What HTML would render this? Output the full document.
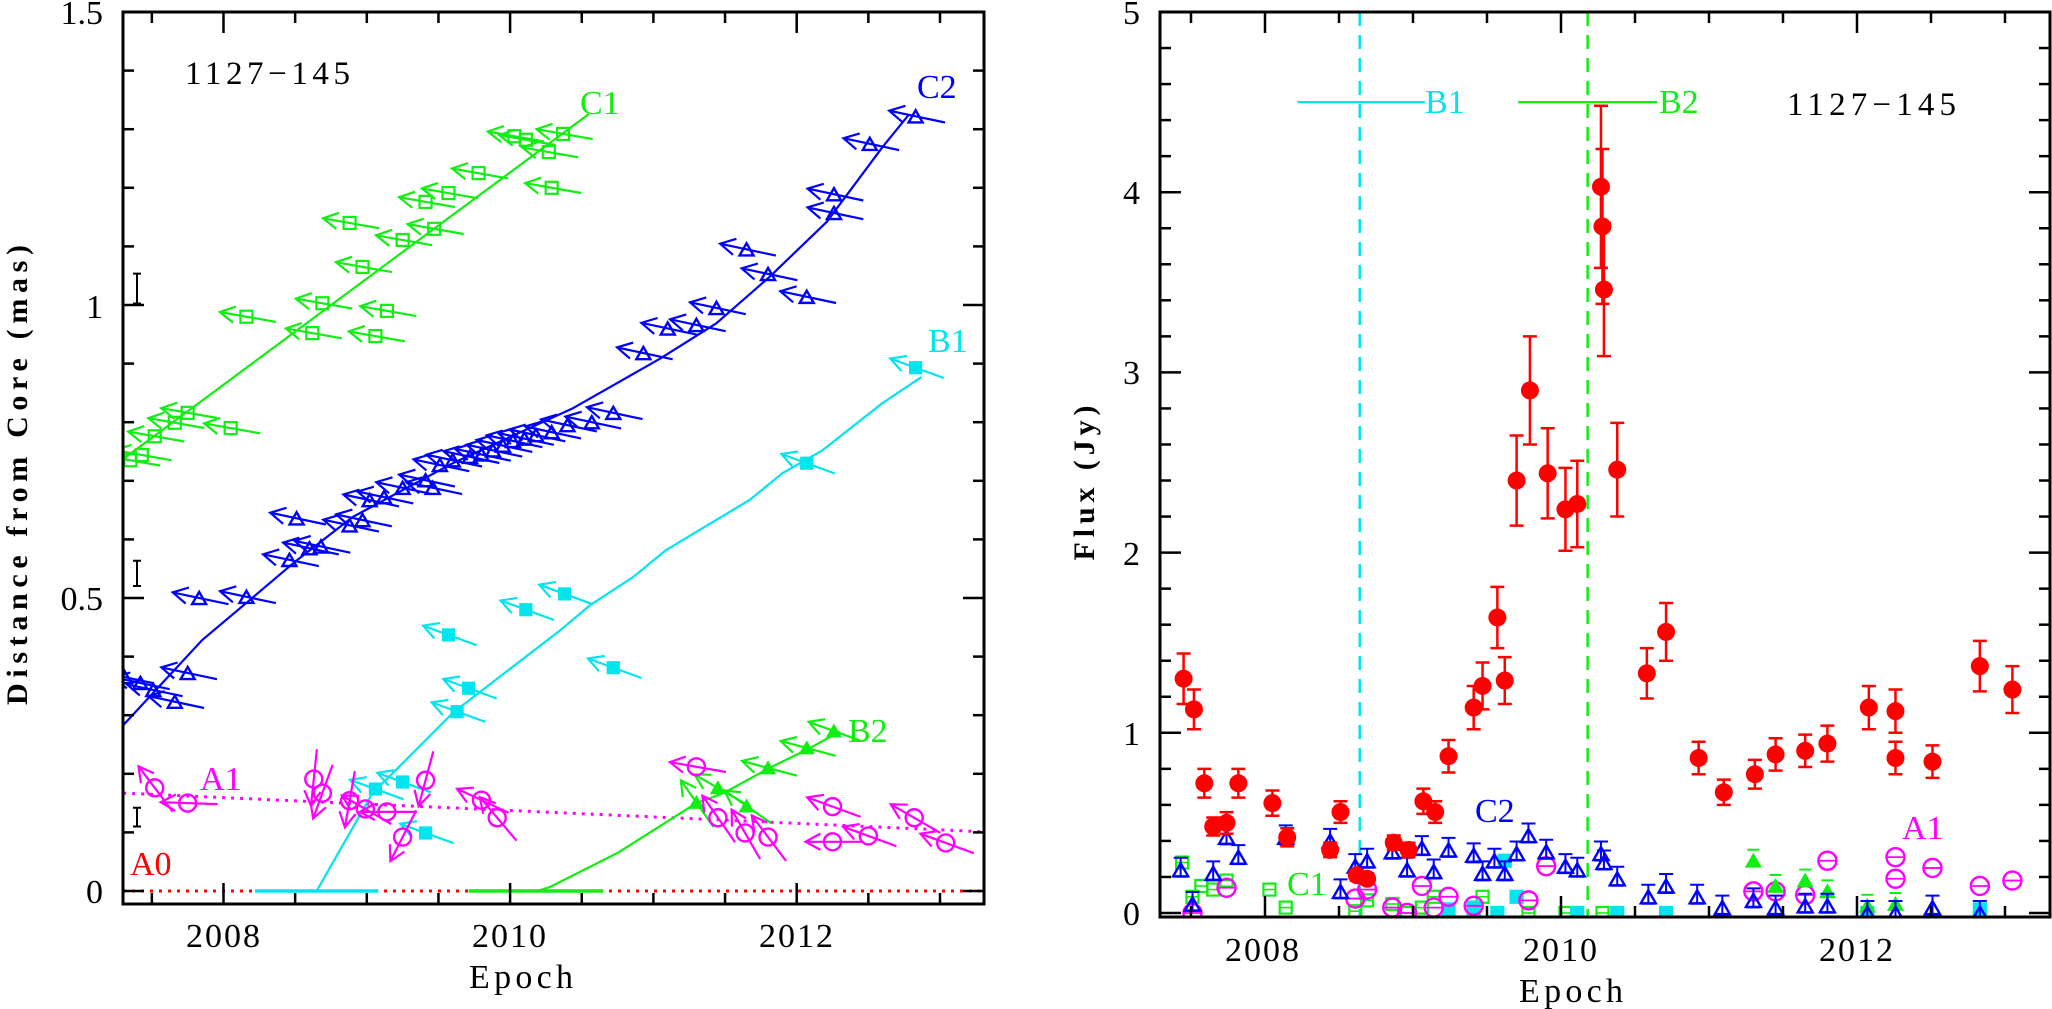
<!DOCTYPE html>
<html><head><meta charset="utf-8"><title>1127-145</title>
<style>
html,body{margin:0;padding:0;background:#fff;}
svg{display:block;}
text{font-family:"Liberation Serif",serif;}
</style></head>
<body>
<svg id="chart" width="2052" height="1009" viewBox="0 0 2052 1009" xmlns="http://www.w3.org/2000/svg">
<defs>
<clipPath id="clipL"><rect x="123" y="12" width="861" height="892"/></clipPath>
<clipPath id="clipR"><rect x="1160" y="12" width="890" height="905"/></clipPath>
</defs>
<rect x="0" y="0" width="2052" height="1009" fill="#fff"/>
<g id="gL" clip-path="url(#clipL)"></g>
<g id="gR" clip-path="url(#clipR)"></g>
<g id="axes"></g>

<!-- left panel text -->
<text x="103" y="24" font-size="34" text-anchor="end">1.5</text>
<text x="103" y="318" font-size="34" text-anchor="end">1</text>
<text x="103" y="610" font-size="34" text-anchor="end">0.5</text>
<text x="103" y="903" font-size="34" text-anchor="end">0</text>
<text x="224" y="947" font-size="34" text-anchor="middle" letter-spacing="2">2008</text>
<text x="510" y="947" font-size="34" text-anchor="middle" letter-spacing="2">2010</text>
<text x="797" y="947" font-size="34" text-anchor="middle" letter-spacing="2">2012</text>
<text x="521" y="988" font-size="34" text-anchor="middle" textLength="104">Epoch</text>
<text transform="translate(27,475) rotate(-90)" font-size="30" font-weight="bold" text-anchor="middle" textLength="460">Distance from Core (mas)</text>
<text x="185" y="84" font-size="33" textLength="165">1127−145</text>
<text x="580" y="114" font-size="34" fill="#11ee11">C1</text>
<text x="917" y="98" font-size="34" fill="#0000ff">C2</text>
<text x="928" y="352" font-size="34" fill="#00e5ee">B1</text>
<text x="848" y="742" font-size="34" fill="#11ee11">B2</text>
<text x="200" y="790" font-size="34" fill="#ff00ff">A1</text>
<text x="130" y="875" font-size="34" fill="#ff0000">A0</text>

<!-- right panel text -->
<text x="1140" y="24" font-size="34" text-anchor="end">5</text>
<text x="1140" y="204" font-size="34" text-anchor="end">4</text>
<text x="1140" y="384" font-size="34" text-anchor="end">3</text>
<text x="1140" y="565" font-size="34" text-anchor="end">2</text>
<text x="1140" y="745" font-size="34" text-anchor="end">1</text>
<text x="1140" y="925" font-size="34" text-anchor="end">0</text>
<text x="1263" y="961" font-size="34" text-anchor="middle" letter-spacing="2">2008</text>
<text x="1561" y="961" font-size="34" text-anchor="middle" letter-spacing="2">2010</text>
<text x="1857" y="961" font-size="34" text-anchor="middle" letter-spacing="2">2012</text>
<text x="1571" y="1002" font-size="34" text-anchor="middle" textLength="104">Epoch</text>
<text transform="translate(1094,483) rotate(-90)" font-size="30" font-weight="bold" text-anchor="middle" textLength="155">Flux (Jy)</text>
<text x="1787" y="115" font-size="33" textLength="169">1127−145</text>
<text x="1425" y="113" font-size="34" fill="#00e5ee">B1</text>
<text x="1659" y="113" font-size="34" fill="#11ee11">B2</text>
<text x="1475" y="822" font-size="34" fill="#0000ff">C2</text>
<text x="1287" y="895" font-size="34" fill="#11ee11">C1</text>
<text x="1902" y="839" font-size="34" fill="#ff00ff">A1</text>
</svg>
<script>
// ---------- Left panel data (distance from core, mas) ----------
const c1T=[2007.35,2007.43,2007.52,2007.66,2007.75,2008.05,2008.16,2008.62,2008.69,2008.88,2008.97,2009.06,2009.14,2009.25,2009.41,2009.47,2009.57,2009.78,2010.03,2010.11,2010.27,2010.29,2010.37];
const c1D=[0.735,0.744,0.776,0.799,0.816,0.790,0.980,0.952,1.003,1.140,1.065,0.947,0.990,1.111,1.176,1.130,1.191,1.225,1.288,1.282,1.261,1.200,1.292];
const c2T=[2007.31,2007.42,2007.51,2007.66,2007.75,2007.83,2008.16,2008.46,2008.60,2008.68,2008.51,2008.88,2008.97,2009.02,2009.12,2009.25,2009.41,2009.46,2009.51,2009.60,2009.72,2009.80,2009.88,2009.95,2010.02,2010.10,2010.18,2010.29,2010.40,2010.57,2010.72,2010.93,2011.10,2011.30,2011.44,2011.65,2011.80,2012.07,2012.26,2012.26,2012.51,2012.83];
const c2D=[0.365,0.355,0.343,0.323,0.372,0.500,0.502,0.565,0.585,0.588,0.636,0.624,0.633,0.667,0.672,0.688,0.701,0.688,0.727,0.735,0.741,0.745,0.752,0.760,0.768,0.772,0.778,0.783,0.795,0.800,0.816,0.918,0.960,0.966,0.995,1.095,1.053,1.014,1.189,1.157,1.275,1.322];
const b1T=[2009.06,2009.25,2009.41,2009.57,2009.63,2009.71,2010.11,2010.38,2010.72,2012.07,2012.83];
const b1D=[0.174,0.186,0.099,0.437,0.306,0.346,0.480,0.507,0.381,0.730,0.893];
const b2T=[2011.30,2011.45,2011.65,2011.80,2012.07,2012.26];
const b2D=[0.151,0.176,0.145,0.210,0.244,0.273];
const b2A=[125,150,145,165,165,160];
const a1T=[2007.52,2007.75,2008.63,2008.69,2008.88,2008.99,2009.14,2009.41,2009.25,2009.80,2009.91,2011.30,2011.45,2011.64,2011.80,2012.25,2012.25,2012.50,2012.82,2013.04];
const a1D=[0.176,0.150,0.191,0.167,0.154,0.140,0.135,0.189,0.092,0.155,0.125,0.212,0.125,0.099,0.092,0.144,0.084,0.094,0.125,0.082];
const a1A=[127,178,264,250,260,150,180,255,243,155,130,170,125,120,127,160,180,160,150,160];
// fits
const c1FitT=[2007.30,2010.55];
const c1FitD=[0.737,1.326];
const c2FitT=[2007.30,2007.85,2008.21,2008.49,2008.90,2009.60,2010.44,2011.05,2011.44,2011.81,2012.21,2012.60,2012.78];
const c2FitD=[0.283,0.428,0.502,0.560,0.638,0.730,0.824,0.909,0.969,1.048,1.142,1.270,1.324];
const b1FitT=[2008.65,2009.04,2009.25,2009.60,2010.35,2010.56,2010.86,2011.09,2011.67,2011.90,2012.18,2012.60,2012.87];
const b1FitD=[0,0.167,0.218,0.304,0.445,0.488,0.536,0.582,0.667,0.713,0.752,0.833,0.877];
const b2FitT=[2010.19,2010.28,2010.75,2011.30,2011.49,2011.81,2012.07,2012.30];
const b2FitD=[0,0.007,0.065,0.150,0.167,0.210,0.241,0.272];
const a1FitT=[2007.30,2013.31];
const a1FitD=[0.167,0.101];
const b1Start=[2008.22,2009.08];
const b2Start=[2009.71,2010.65];
const scaleBarD=[1.028,0.542,0.126];
const scaleBarH=[0.051,0.043,0.032];
// ---------- Right panel data (flux, Jy) ----------
const redT=[2007.45,2007.52,2007.59,2007.65,2007.74,2007.82,2008.05,2008.15,2008.44,2008.51,2008.62,2008.69,2008.87,2008.97,2009.07,2009.15,2009.24,2009.41,2009.47,2009.57,2009.62,2009.70,2009.79,2009.91,2010.03,2010.11,2010.27,2010.28,2010.29,2010.38,2010.58,2010.71,2010.93,2011.10,2011.31,2011.45,2011.65,2011.80,2012.08,2012.26,2012.26,2012.51,2012.83,2013.05];
const redF=[1.30,1.13,0.72,0.48,0.50,0.72,0.61,0.42,0.35,0.56,0.21,0.19,0.39,0.35,0.62,0.56,0.87,1.14,1.26,1.64,1.29,2.40,2.90,2.44,2.24,2.27,4.03,3.81,3.46,2.46,1.33,1.56,0.86,0.67,0.77,0.88,0.90,0.94,1.14,1.12,0.86,0.84,1.37,1.24];
const redE=[0.14,0.11,0.08,0.05,0.06,0.08,0.07,0.05,0.04,0.06,0.03,0.03,0.04,0.04,0.07,0.06,0.09,0.12,0.13,0.17,0.13,0.25,0.30,0.25,0.23,0.24,0.45,0.43,0.37,0.26,0.14,0.16,0.09,0.07,0.08,0.09,0.09,0.10,0.12,0.12,0.09,0.09,0.14,0.13];
const cfT=[2007.43,2007.51,2007.65,2007.74,2007.82,2008.14,2008.44,2008.51,2008.61,2008.69,2008.86,2008.96,2009.06,2009.14,2009.24,2009.41,2009.47,2009.55,2009.62,2009.70,2009.78,2009.90,2010.03,2010.11,2010.27,2010.29,2010.38,2010.59,2010.71,2010.92,2011.09,2011.30,2011.45,2011.65,2011.80,2012.07,2012.26,2012.51,2012.83];
const cfF=[0.24,0.05,0.22,0.42,0.31,0.42,0.40,0.12,0.26,0.29,0.34,0.24,0.36,0.23,0.35,0.32,0.22,0.29,0.22,0.33,0.43,0.34,0.26,0.24,0.33,0.28,0.19,0.09,0.15,0.09,0.03,0.07,0.03,0.04,0.04,0.00,0.00,0.03,0.00];
const gfT=[2007.44,2007.51,2007.57,2007.65,2007.74,2008.03,2008.14,2008.61,2008.69,2008.86,2008.96,2009.06,2009.14,2009.41,2009.47,2009.78,2010.03,2010.28];
const gfF=[0.28,0.09,0.15,0.13,0.18,0.13,0.03,0.01,0.07,0.05,0.00,0.03,0.09,0.01,0.09,0.00,0.00,0.00];
const afT=[2007.51,2007.74,2008.61,2008.69,2008.86,2008.96,2009.06,2009.14,2009.24,2009.41,2009.78,2009.90,2011.30,2011.45,2011.65,2011.80,2012.26,2012.26,2012.51,2012.83,2013.05];
const afF=[0.00,0.14,0.08,0.13,0.03,0.00,0.15,0.03,0.09,0.04,0.07,0.26,0.12,0.12,0.10,0.29,0.31,0.19,0.25,0.15,0.18];
const bfT=[2009.24,2009.41,2009.57,2009.62,2009.70,2010.11,2010.38,2010.71,2012.07,2012.83];
const bfF=[0.02,0.03,0.00,0.29,0.09,0.00,0.00,0.00,0.00,0.02];
const b2fT=[2011.30,2011.45,2011.65,2011.80,2012.07,2012.26];
const b2fF=[0.29,0.15,0.18,0.12,0.04,0.05];
const ejectT=[2008.64,2010.18];
const ejectRangeLo=[2008.22,2009.71];
const ejectRangeHi=[2009.08,2010.65];
const ejectBarF=4.5;

// ---------- scales ----------
const xL=t=>223.5+(t-2008)*143.3;
const yL=d=>891-d*586;
const xR=t=>1561+(t-2010)*148;
const yR=f=>913-f*180.2;
const NS="http://www.w3.org/2000/svg";
const GREEN="#11ee11",BLUE="#0000ff",CYAN="#00e5ee",MAG="#ff00ff",RED="#ff0000";
const gL=document.getElementById('gL'),gR=document.getElementById('gR'),gA=document.getElementById('axes');

function mk(parent,tag,attrs,name){
  const el=document.createElementNS(NS,tag);
  for(const k in attrs) el.setAttribute(k,attrs[k]);
  
  
  parent.appendChild(el);
  return el;
}
function line(p,x1,y1,x2,y2,c,w,name,extra){
  const a={x1:x1,y1:y1,x2:x2,y2:y2,stroke:c,'stroke-width':w};
  if(extra) for(const k in extra) a[k]=extra[k];
  return mk(p,'line',a,name);
}
function poly(p,xs,ys,c,w,name,extra){
  const pts=xs.map((x,i)=>x.toFixed(1)+','+ys[i].toFixed(1)).join(' ');
  const a={points:pts,fill:'none',stroke:c,'stroke-width':w,'stroke-linejoin':'round'};
  if(extra) for(const k in extra) a[k]=extra[k];
  return mk(p,'polyline',a,name);
}
function arrow(p,cx,cy,ang,c,name){
  const r=ang*Math.PI/180, dx=Math.cos(r), dy=-Math.sin(r);
  const hx=cx+27*dx, hy=cy+27*dy, tx=cx-30*dx, ty=cy-30*dy;
  const a1=r+Math.PI-0.5, a2=r+Math.PI+0.5;
  const d='M'+tx.toFixed(1)+' '+ty.toFixed(1)+' L'+hx.toFixed(1)+' '+hy.toFixed(1)+
    ' M'+(hx+17*Math.cos(a1)).toFixed(1)+' '+(hy-17*Math.sin(a1)).toFixed(1)+' L'+hx.toFixed(1)+' '+hy.toFixed(1)+
    ' L'+(hx+17*Math.cos(a2)).toFixed(1)+' '+(hy-17*Math.sin(a2)).toFixed(1);
  return mk(p,'path',{d:d,fill:'none',stroke:c,'stroke-width':2.2},name);
}
function square(p,x,y,s,c,filled,name){
  return mk(p,'rect',{x:x-s/2,y:y-s/2,width:s,height:s,fill:filled?c:'none',stroke:c,'stroke-width':2.2},name);
}
function triangle(p,x,y,s,c,filled,name){
  const h=s*0.87;
  const pts=(x-s/2)+','+(y+h/2)+' '+(x+s/2)+','+(y+h/2)+' '+x+','+(y-h/2);
  return mk(p,'polygon',{points:pts,fill:filled?c:'none',stroke:c,'stroke-width':2.4},name);
}
function circle(p,x,y,r,c,filled,name){
  return mk(p,'circle',{cx:x,cy:y,r:r,fill:filled?c:'none',stroke:c,'stroke-width':2.4},name);
}

// ---------- axes ----------
function frame(x0,y0,x1,y1,name){
  mk(gA,'rect',{x:x0,y:y0,width:x1-x0,height:y1-y0,fill:'none',stroke:'#000','stroke-width':3},name);
}
frame(123,12,984,904,'left-frame');
frame(1160,12,2050,917,'right-frame');
for(let t=2007.5;t<=2013.01;t+=0.5){
  const maj=Math.abs(t/2-Math.round(t/2))<0.01;
  const len=maj?21:11;
  let x=xL(t);
  line(gA,x,904,x,904-len,'#000',2.5,'x-tick-left-bottom');
  line(gA,x,12,x,12+len,'#000',2.5,'x-tick-left-top');
  x=xR(t);
  line(gA,x,917,x,917-len,'#000',2.5,'x-tick-right-bottom');
  line(gA,x,12,x,12+len,'#000',2.5,'x-tick-right-top');
}
for(let i=0;i<=15;i++){
  const d=i/10, y=yL(d), len=(i%5===0)?21:11;
  line(gA,123,y,123+len,y,'#000',2.5,'y-tick-left');
  line(gA,984,y,984-len,y,'#000',2.5,'y-tick-right');
}
for(let i=0;i<=25;i++){
  const f=i/5, y=yR(f), len=(i%5===0)?21:11;
  line(gA,1160,y,1160+len,y,'#000',2.5,'flux-tick-left');
  line(gA,2050,y,2050-len,y,'#000',2.5,'flux-tick-right');
}

// ---------- left panel ----------
line(gL,123,yL(0),984,yL(0),RED,3,'a0-zero-line',{'stroke-dasharray':'3,6'});
poly(gL,a1FitT.map(xL),a1FitD.map(yL),MAG,3,'a1-fit-line',{'stroke-dasharray':'3,6'});
poly(gL,c1FitT.map(xL),c1FitD.map(yL),GREEN,2.2,'c1-fit-line');
poly(gL,c2FitT.map(xL),c2FitD.map(yL),BLUE,2.2,'c2-fit-line');
poly(gL,b1FitT.map(xL),b1FitD.map(yL),CYAN,2.2,'b1-fit-line');
poly(gL,b2FitT.map(xL),b2FitD.map(yL),GREEN,2.2,'b2-fit-line');
line(gL,xL(b1Start[0]),yL(0),xL(b1Start[1]),yL(0),CYAN,3.5,'b1-ejection-range');
line(gL,xL(b2Start[0]),yL(0),xL(b2Start[1]),yL(0),GREEN,3.5,'b2-ejection-range');
for(let i=0;i<scaleBarD.length;i++){
  const y1=yL(scaleBarD[i]+scaleBarH[i]/2), y2=yL(scaleBarD[i]-scaleBarH[i]/2);
  mk(gL,'path',{d:'M133 '+y1+' L141 '+y1+' M137 '+y1+' L137 '+y2+' M133 '+y2+' L141 '+y2,stroke:'#000','stroke-width':2,fill:'none'},'error-scale-bar');
}
for(let i=0;i<c1T.length;i++){
  const x=xL(c1T[i]),y=yL(c1D[i]);
  arrow(gL,x,y,170,GREEN,'c1-arrow');
  square(gL,x,y,12,GREEN,false,'c1-point');
}
for(let i=0;i<c2T.length;i++){
  const x=xL(c2T[i]),y=yL(c2D[i]);
  arrow(gL,x,y,168,BLUE,'c2-arrow');
  triangle(gL,x,y,14,BLUE,false,'c2-point');
}
for(let i=0;i<b1T.length;i++){
  const x=xL(b1T[i]),y=yL(b1D[i]);
  arrow(gL,x,y,160,CYAN,'b1-arrow');
  square(gL,x,y,11,CYAN,true,'b1-point');
}
for(let i=0;i<b2T.length;i++){
  const x=xL(b2T[i]),y=yL(b2D[i]);
  arrow(gL,x,y,b2A[i],GREEN,'b2-arrow');
  triangle(gL,x,y,12,GREEN,true,'b2-point');
}
for(let i=0;i<a1T.length;i++){
  const x=xL(a1T[i]),y=yL(a1D[i]);
  arrow(gL,x,y,a1A[i],MAG,'a1-arrow');
  circle(gL,x,y,8.5,MAG,false,'a1-point');
}

// ---------- right panel ----------
for(let i=0;i<ejectT.length;i++){
  const c=i===0?CYAN:GREEN;
  line(gR,xR(ejectT[i]),12,xR(ejectT[i]),917,c,2.5,'ejection-epoch-line',{'stroke-dasharray':'14,9'});
  line(gR,xR(ejectRangeLo[i]),yR(ejectBarF),xR(ejectRangeHi[i]),yR(ejectBarF),c,2.2,'ejection-range-bar');
}
for(let i=0;i<gfT.length;i++){
  const x=xR(gfT[i]),y=yR(gfF[i]);
  square(gR,x,y,12,GREEN,false,'flux-c1-point');
  line(gR,x-6,y,x+6,y,GREEN,1.6,'flux-c1-err');
}
for(let i=0;i<bfT.length;i++){
  square(gR,xR(bfT[i]),yR(bfF[i]),12,CYAN,true,'flux-b1-point');
}
for(let i=0;i<afT.length;i++){
  const x=xR(afT[i]),y=yR(afF[i]);
  circle(gR,x,y,9,MAG,false,'flux-a1-point');
  line(gR,x-9,y,x+9,y,MAG,1.8,'flux-a1-err');
}
for(let i=0;i<b2fT.length;i++){
  const x=xR(b2fT[i]),y=yR(b2fF[i]);
  line(gR,x-6,y-11,x+6,y-11,GREEN,2,'flux-b2-err');
  triangle(gR,x,y,13,GREEN,true,'flux-b2-point');
}
for(let i=0;i<cfT.length;i++){
  const x=xR(cfT[i]),y=yR(cfF[i]);
  mk(gR,'path',{d:'M'+(x-7)+' '+(y-12)+' L'+(x+7)+' '+(y-12)+' M'+x+' '+(y-12)+' L'+x+' '+(y+7)+' M'+(x-7)+' '+(y+7)+' L'+(x+7)+' '+(y+7),stroke:BLUE,'stroke-width':2,fill:'none'},'flux-c2-err');
  triangle(gR,x,y,15,BLUE,false,'flux-c2-point');
}
for(let i=0;i<redT.length;i++){
  const x=xR(redT[i]),y=yR(redF[i]),yt=yR(redF[i]+redE[i]),yb=yR(redF[i]-redE[i]);
  mk(gR,'path',{d:'M'+(x-7)+' '+yt+' L'+(x+7)+' '+yt+' M'+x+' '+yt+' L'+x+' '+yb+' M'+(x-7)+' '+yb+' L'+(x+7)+' '+yb,stroke:RED,'stroke-width':2.5,fill:'none'},'flux-core-err');
  mk(gR,'ellipse',{cx:x,cy:y,rx:9,ry:9,fill:RED},'flux-core-point');
}
</script>
</body></html>
